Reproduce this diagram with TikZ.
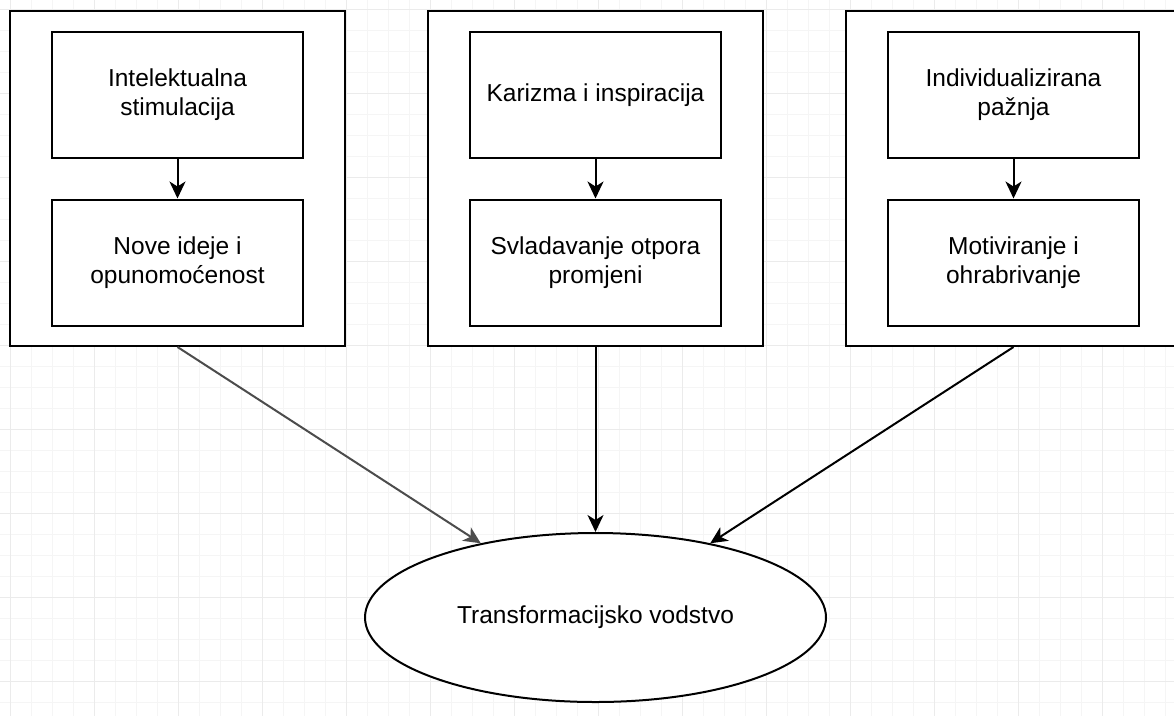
\documentclass[tikz,border=0pt]{standalone}
\usepackage{fontspec}
\setmainfont{Liberation Sans}
\usepackage{tikz}
\usetikzlibrary{shapes.geometric,arrows.meta}

\begin{document}
\begin{tikzpicture}[x=1pt, y=-1pt]
    \tikzstyle{outerbox} = [rectangle, draw, line width=2pt, fill=white, inner sep=0pt, minimum width=335, minimum height=335]
    \tikzstyle{innerbox} = [rectangle, draw, line width=2pt, fill=white, inner sep=0pt, minimum width=251, minimum height=126, align=center, font=\fontsize{24.5}{29}\selectfont]
    \tikzstyle{goal} = [ellipse, draw, line width=2pt, fill=white, inner sep=0pt, minimum width=461, minimum height=169, font=\fontsize{24.5}{29}\selectfont]
    \tikzstyle{link} = [line width=2pt, -{Stealth[length=17pt, width=16pt, inset=5pt]}]
    \tikzstyle{minorgrid} = [draw=black!4, line width=1pt]
    \tikzstyle{majorgrid} = [draw=black!8, line width=1pt]

    \clip (0,0) rectangle (1174,716);
    \useasboundingbox (0,0) rectangle (1174,716);

    % Background grid
    \foreach \i in {0,...,55} {
        \draw[minorgrid] ({10+21*\i},0) -- ({10+21*\i},716);
    }
    \foreach \j in {0,...,33} {
        \draw[minorgrid] (0,{9+21*\j}) -- (1174,{9+21*\j});
    }
    \foreach \i in {0,...,13} {
        \draw[majorgrid] ({10+84*\i},0) -- ({10+84*\i},716);
    }
    \foreach \j in {0,...,8} {
        \draw[majorgrid] (0,{9+84*\j}) -- (1174,{9+84*\j});
    }

    % Outer boxes
    \node[outerbox] (box1) at (177.5,178.5) {};
    \node[outerbox] (box2) at (595.5,178.5) {};
    \node[outerbox] (box3) at (1013.5,178.5) {};

    % Inner boxes
    \node[innerbox] (top1) at (177.5,95) {Intelektualna\\stimulacija};
    \node[innerbox] (bot1) at (177.5,262.5) {Nove ideje i\\opunomoćenost};
    \node[innerbox] (top2) at (595.5,95) {Karizma i inspiracija};
    \node[innerbox] (bot2) at (595.5,262.5) {Svladavanje otpora\\promjeni};
    \node[innerbox] (top3) at (1013.5,95) {Individualizirana\\pažnja};
    \node[innerbox] (bot3) at (1013.5,262.5) {Motiviranje i\\ohrabrivanje};

    % Result
    \node[goal] (trans) at (595.5,617.5) {Transformacijsko vodstvo};

    % Arrows
    \draw[link] (top1) -- (bot1);
    \draw[link] (top2) -- (bot2);
    \draw[link] (top3) -- (bot3);
    \draw[link, black!70] (box1.south) -- (trans);
    \draw[link] (box2.south) -- (trans);
    \draw[link] (box3.south) -- (trans);
\end{tikzpicture}
\end{document}
